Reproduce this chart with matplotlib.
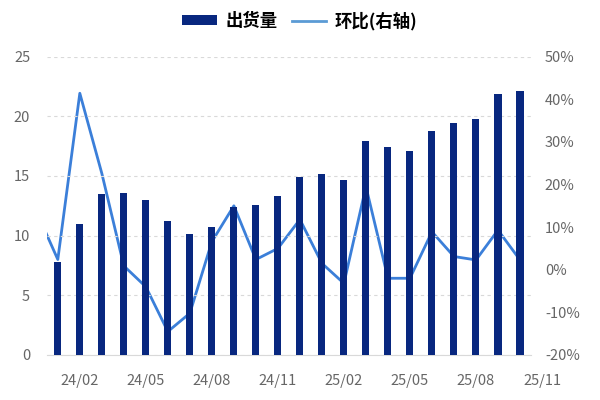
import matplotlib
matplotlib.use("Agg")
import matplotlib.pyplot as plt
import matplotlib.transforms as mtransforms
from matplotlib.patches import Patch
from matplotlib.lines import Line2D
from matplotlib.ticker import FuncFormatter

plt.rcParams['font.family'] = ['Noto Sans CJK SC', 'DejaVu Sans']

# shipments 24/01 .. 25/10
shipments = [7.8, 11.0, 13.5, 13.6, 13.0, 11.2, 10.1, 10.7, 12.4, 12.6, 13.3,
             14.9, 15.2, 14.7, 17.9, 17.4, 17.1, 18.8, 19.4, 19.8, 21.9, 22.1]
# month-over-month %, 23/12 .. 25/10
mom = [14.0, 2.4, 41.4, 22.6, 0.9, -4.0, -14.5, -10.2, 6.6, 15.0, 2.4, 5.0,
       11.8, 1.5, -3.2, 19.5, -2.0, -2.0, 8.9, 3.1, 2.3, 9.3, 2.3]
tick_labels = ['24/02', '24/05', '24/08', '24/11', '25/02', '25/05', '25/08', '25/11']
tick_pos = [1, 4, 7, 10, 13, 16, 19, 22]

bar_color = '#08277f'
line_color = '#3b7fd9'
grey = '#666666'
xpad = 13.5

fig = plt.figure(figsize=(6, 4), dpi=100)
ax = fig.add_axes([0.078, 0.1125, 0.807, 0.746])
ax2 = ax.twinx()

x = list(range(len(shipments)))
x_line = list(range(-1, len(mom) - 1))

# line sits behind the bars
ax.set_zorder(2)
ax.patch.set_visible(False)
ax2.set_zorder(1)
ax2.plot(x_line, [v / 100 for v in mom], color=line_color, linewidth=2.0)

ax.bar(x, shipments, width=0.32, color=bar_color, zorder=3)

ax.set_xlim(-0.5, len(shipments) - 0.5)
ax.set_ylim(0, 25)
ax.set_yticks([0, 5, 10, 15, 20, 25])
ax2.set_ylim(-0.2, 0.5)
ax2.set_yticks([-0.2, -0.1, 0, 0.1, 0.2, 0.3, 0.4, 0.5])
ax2.yaxis.set_major_formatter(FuncFormatter(lambda v, p: f"{v * 100:.0f}%"))

ax.grid(axis='y', color='#d9d9d9', linestyle=(0, (3, 3)), linewidth=0.8)
ax.set_axisbelow(True)

for a in (ax, ax2):
    for s in a.spines.values():
        s.set_visible(False)
    a.tick_params(length=0, labelsize=10.5, colors=grey)
ax.spines['bottom'].set_visible(True)
ax.spines['bottom'].set_color('#d9d9d9')
ax.tick_params(axis='y', pad=12)
ax2.tick_params(axis='y', pad=10)

# x labels: every third month; the last one falls just outside the bars
inside = [(p, l) for p, l in zip(tick_pos, tick_labels) if p <= x[-1]]
ax.set_xticks([p for p, l in inside])
ax.set_xticklabels([l for p, l in inside])
ax.tick_params(axis='x', pad=xpad)
trans = mtransforms.blended_transform_factory(ax.transData, ax.transAxes)
for p, l in zip(tick_pos, tick_labels):
    if p > x[-1]:
        ax.annotate(l, xy=(p, 0), xycoords=trans, xytext=(0, -xpad),
                    textcoords='offset points', ha='center', va='top',
                    fontsize=10.5, color=grey, annotation_clip=False)

handles = [Patch(facecolor=bar_color, edgecolor='none'),
           Line2D([0], [0], color='#5b9bd5', linewidth=2)]
fig.legend(handles, ['出货量', '环比(右轴)'], loc='center', bbox_to_anchor=(0.5, 0.948),
           ncol=2, frameon=False, prop={'size': 12.5, 'weight': 'bold'},
           handlelength=2.0, handleheight=0.45, columnspacing=0.8, handletextpad=0.5)

fig.savefig('out.png', dpi=100)
